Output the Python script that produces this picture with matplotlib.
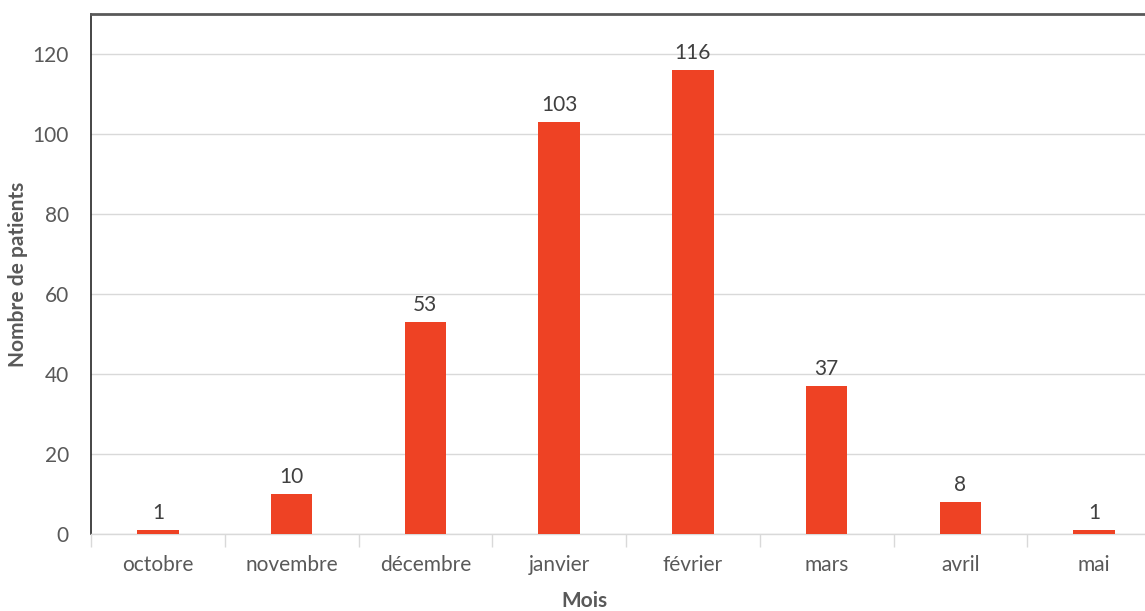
import matplotlib
matplotlib.use("Agg")
import matplotlib.pyplot as plt
import numpy as np

months = ["octobre", "novembre", "décembre", "janvier", "février", "mars", "avril", "mai"]
patients = [1, 10, 53, 103, 116, 37, 8, 1]
yticks = [0, 20, 40, 60, 80, 100, 120]

plt.rcParams['font.family'] = ['Lato', 'DejaVu Sans']

fig = plt.figure(figsize=(11.45, 6.11), dpi=100)
ax = fig.add_axes([91/1145, 1-534/611, 1070/1145, (534-14)/611])

x = np.arange(len(months))
bars = ax.bar(x, patients, width=0.31, color="#EE4224", zorder=3)
for xi, v in zip(x, patients):
    ax.annotate(str(v), (xi, v), xytext=(0, 5), textcoords="offset points",
                ha="center", va="bottom", fontsize=15, color="#404040")

ax.set_xlim(-0.5, len(months) - 0.5)
ax.set_ylim(0, 130)
ax.set_yticks(yticks)
ax.set_yticklabels([str(t) for t in yticks])
ax.yaxis.grid(True, color="#D9D9D9", linewidth=1, zorder=0)
ax.tick_params(axis="y", length=0, pad=16, labelsize=15, labelcolor="#595959")

ax.set_xticks(x)
ax.set_xticklabels(months)
ax.set_xticks(np.arange(len(months) + 1) - 0.5, minor=True)
ax.tick_params(axis="x", which="major", length=0, pad=15, labelsize=15, labelcolor="#595959")
ax.tick_params(axis="x", which="minor", length=9, color="#D9D9D9", width=1)

ax.spines["left"].set_color("#262626")
ax.spines["left"].set_linewidth(1.2)
ax.spines["top"].set_color("#595959")
ax.spines["top"].set_linewidth(2)
ax.spines["bottom"].set_color("#D9D9D9")
ax.spines["bottom"].set_linewidth(1)
ax.spines["right"].set_visible(False)

fig.text(18/1145, 1-274/611, "Nombre de patients", rotation=90, ha="center", va="center",
         fontsize=15, fontweight="bold", color="#595959")
fig.text(584/1145, 1-601/611, "Mois", ha="center", va="center",
         fontsize=15, fontweight="bold", color="#595959")

fig.savefig("out.png", dpi=100)
